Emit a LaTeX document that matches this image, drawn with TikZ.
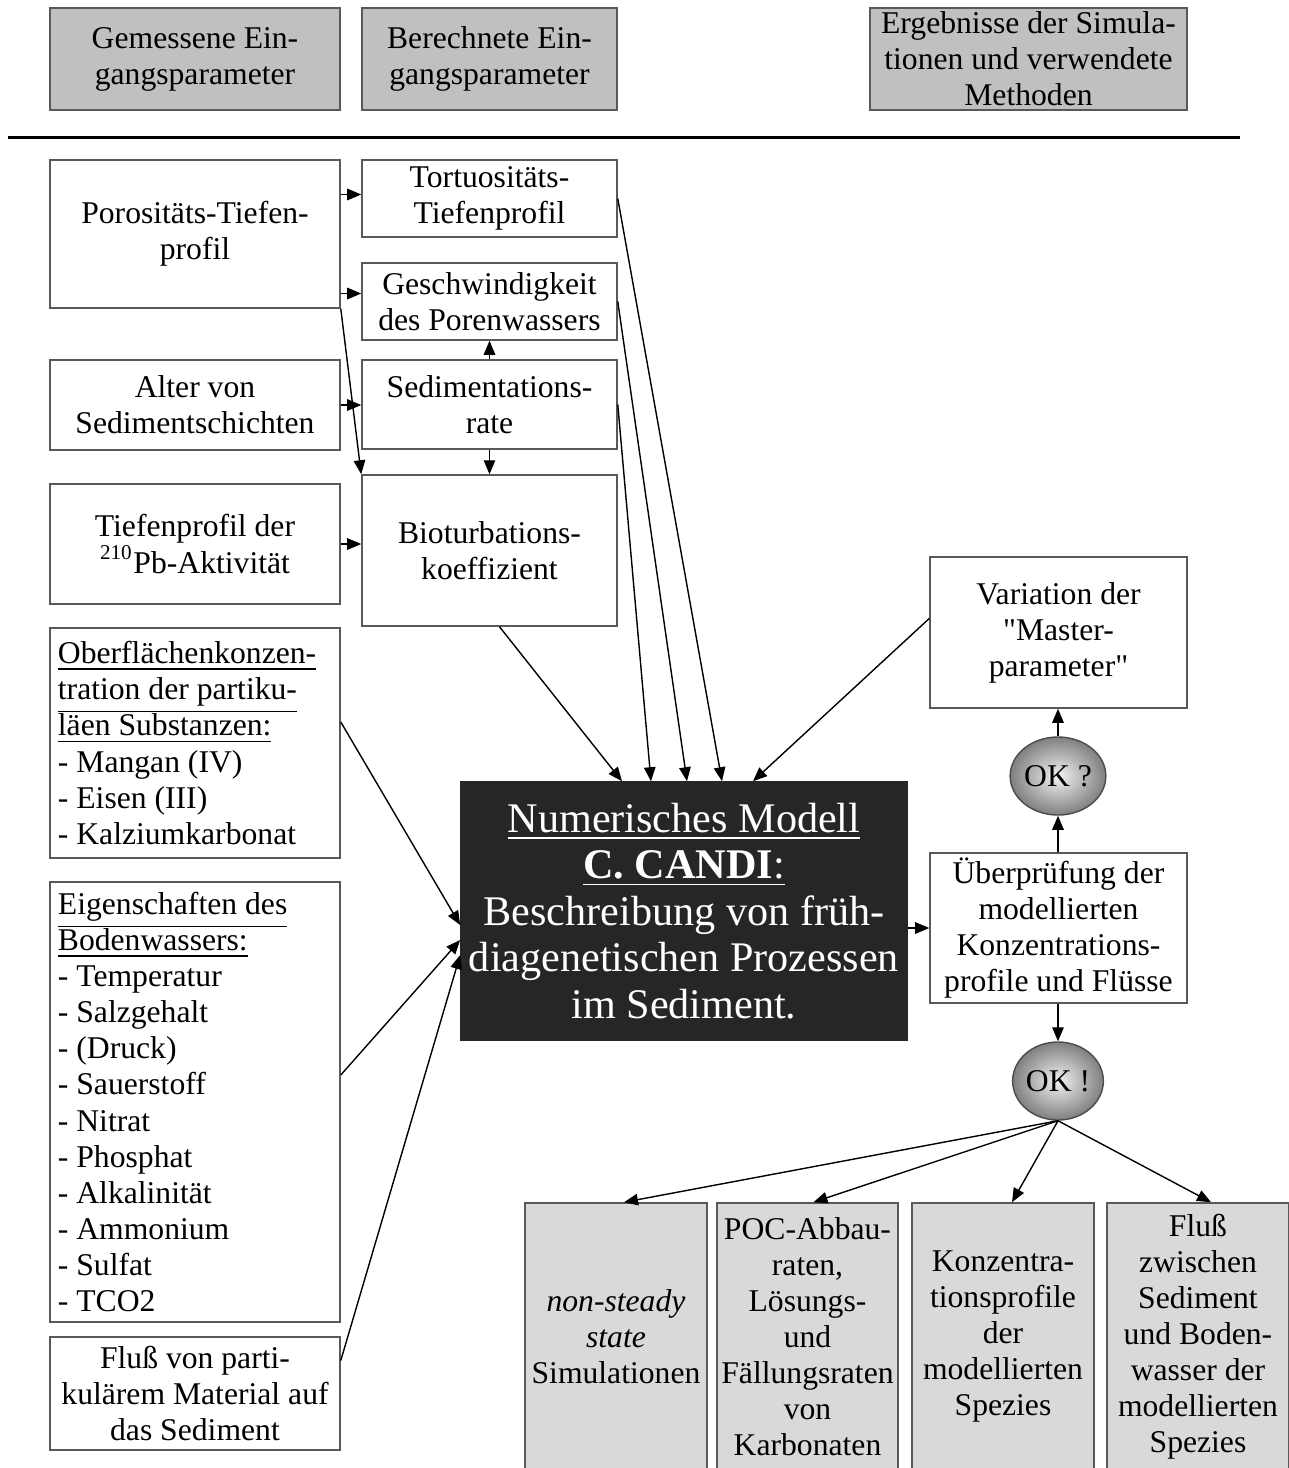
\documentclass[tikz,border=0pt]{standalone}
\usepackage{fontspec}
\setmainfont{Liberation Serif}
\usetikzlibrary{arrows.meta,shapes.geometric}

\definecolor{legende}{RGB}{192,192,192}
\definecolor{ergebnis}{RGB}{217,217,217}
\definecolor{modell}{RGB}{36,38,40}
\newcommand{\klein}{\fontsize{9}{10.25}\selectfont}
\newcommand{\gross}{\fontsize{12}{13.2}\selectfont}

\begin{document}
\begin{tikzpicture}[x=0.01cm, y=-0.01cm,
  kasten/.style={draw=black!65, line width=0.4pt, fill=white, inner sep=0pt, align=center, font=\klein},
  titel/.style={kasten, fill=legende, minimum height=1.02cm},
  liste/.style={kasten, align=flush left, inner xsep=0.08cm, text width=2.74cm},
  ergebnisbox/.style={kasten, fill=ergebnis, minimum width=1.82cm, minimum height=2.67cm},
  pfeil/.style={-{Triangle[length=1.4mm,width=1.15mm]}, line width=0.4pt},
  okball/.style={ellipse, draw=black!70, shading=radial, inner color=gray!10, outer color=black!50,
    minimum width=0.88cm, minimum height=0.78cm, inner sep=0pt, font=\klein}]

\useasboundingbox (0,0) rectangle (1289,1468);

\node[titel, minimum width=2.9cm] (gemessen) at (195,59) {Gemessene Ein-\\gangsparameter};
\node[titel, minimum width=2.55cm] (berechnet) at (489.5,59) {Berechnete Ein-\\gangsparameter};
\node[titel, minimum width=3.17cm] (ergebnisse) at (1028.5,59) {Ergebnisse der Simula-\\tionen und verwendete\\Methoden};
\coordinate (linie-a) at (8,137);
\coordinate (linie-b) at (1240,137);

\node[kasten, minimum width=2.9cm, minimum height=1.48cm] (poro) at (195,234) {Porositäts-Tiefen-\\profil};
\node[kasten, minimum width=2.9cm, minimum height=0.9cm] (alter) at (195,405) {Alter von\\Sedimentschichten};
\node[kasten, minimum width=2.9cm, minimum height=1.2cm] (pb) at (195,544) {Tiefenprofil der\\\textsuperscript{210}Pb-Aktivität};
\node[liste, minimum height=2.3cm] (ober) at (195,743) {\underline{Oberflächenkonzen-}\\\underline{tration der partiku-}\\\underline{läen Substanzen:}\\- Mangan (IV)\\- Eisen (III)\\- Kalziumkarbonat};
\node[liste, minimum height=4.4cm] (eigen) at (195,1102) {\underline{Eigenschaften des}\\\underline{Bodenwassers:}\\- Temperatur\\- Salzgehalt\\- (Druck)\\- Sauerstoff\\- Nitrat\\- Phosphat\\- Alkalinität\\- Ammonium\\- Sulfat\\- TCO2};
\node[kasten, minimum width=2.9cm, minimum height=1.13cm] (fluss) at (195,1393.5) {Fluß von parti-\\kulärem Material auf\\das Sediment};

\node[kasten, minimum width=2.55cm, minimum height=0.77cm] (tort) at (489.5,198.5) {Tortuositäts-\\Tiefenprofil};
\node[kasten, minimum width=2.55cm, minimum height=0.77cm] (geschw) at (489.5,301.5) {Geschwindigkeit\\des Porenwassers};
\node[kasten, minimum width=2.55cm, minimum height=0.89cm] (sedrate) at (489.5,404.5) {Sedimentations-\\rate};
\node[kasten, minimum width=2.55cm, minimum height=1.51cm] (bio) at (489.5,550.5) {Bioturbations-\\koeffizient};

\node[kasten, fill=modell, draw=black!85, text=white, font=\gross, minimum width=4.46cm, minimum height=2.58cm] (modell) at (684,911) {\underline{Numerisches Modell}\\\underline{\textbf{C. CANDI}:}\\Beschreibung von früh-\\diagenetischen Prozessen\\im Sediment.};

\node[kasten, minimum width=2.57cm, minimum height=1.51cm] (variation) at (1058.5,632.5) {Variation der\\\textquotedbl Master-\\parameter\textquotedbl};
\node[okball] (okq) at (1058,776) {OK ?};
\node[kasten, minimum width=2.57cm, minimum height=1.5cm] (ueber) at (1058.5,928) {Überprüfung der\\modellierten\\Konzentrations-\\profile und Flüsse};
\node[okball] (okex) at (1058,1081) {OK !};

\node[ergebnisbox] (r1) at (616,1336.5) {\textit{non-steady}\\\textit{state}\\Simulationen};
\node[ergebnisbox, minimum width=1.81cm] (r2) at (807.5,1336.5) {POC-Abbau-\\raten,\\Lösungs-\\und\\Fällungsraten\\von\\Karbonaten};
\node[ergebnisbox] (r3) at (1003,1336.5) {Konzentra-\\tionsprofile\\der\\modellierten\\Spezies};
\node[ergebnisbox] (r4) at (1198,1336.5) {Fluß\\zwischen\\Sediment\\und Boden-\\wasser der\\modellierten\\Spezies};

\draw[line width=0.85pt] (linie-a) -- (linie-b);

\draw[pfeil] ([yshift=0.04cm]poro.east |- tort.west) -- ([yshift=0.04cm]tort.west);
\draw[pfeil] ([yshift=0.08cm]poro.east |- geschw.west) -- ([yshift=0.08cm]geschw.west);
\draw[pfeil] (alter.east) -- (alter.east -| sedrate.west);
\draw[pfeil] (pb.east) -- (pb.east -| bio.west);
\draw[pfeil] (poro.south east) -- (bio.north west);
\draw[pfeil] (sedrate.north) -- (geschw.south);
\draw[pfeil] (sedrate.south) -- (bio.north);

\draw[pfeil] ([xshift=0.1cm]bio.south) -- ([xshift=-0.62cm]modell.north);
\draw[pfeil] (sedrate.east) -- ([xshift=-0.33cm]modell.north);
\draw[pfeil] (geschw.east) -- ([xshift=0.03cm]modell.north);
\draw[pfeil] (tort.east) -- ([xshift=0.38cm]modell.north);
\draw[pfeil] ([yshift=0.14cm]variation.west) -- ([xshift=0.69cm]modell.north);
\draw[pfeil] ([yshift=0.21cm]ober.east) -- ([yshift=-0.14cm]modell.west);
\draw[pfeil] ([yshift=0.27cm]eigen.east) -- ([yshift=-0.29cm]modell.west);
\draw[pfeil] ([yshift=0.33cm]fluss.east) -- ([yshift=-0.44cm]modell.west);

\draw[pfeil] (modell.east |- ueber.west) -- (ueber.west);
\draw[pfeil] (ueber.north -| okq.south) -- (okq.south);
\draw[pfeil] (okq.north) -- (okq.north |- variation.south);
\draw[pfeil] (ueber.south -| okex.north) -- (okex.north);

\draw[pfeil] (okex.south) -- ([xshift=0.08cm]r1.north);
\draw[pfeil] (okex.south) -- ([xshift=0.06cm]r2.north);
\draw[pfeil] (okex.south) -- ([xshift=0.09cm]r3.north);
\draw[pfeil] (okex.south) -- ([xshift=0.13cm]r4.north);

\end{tikzpicture}
\end{document}
